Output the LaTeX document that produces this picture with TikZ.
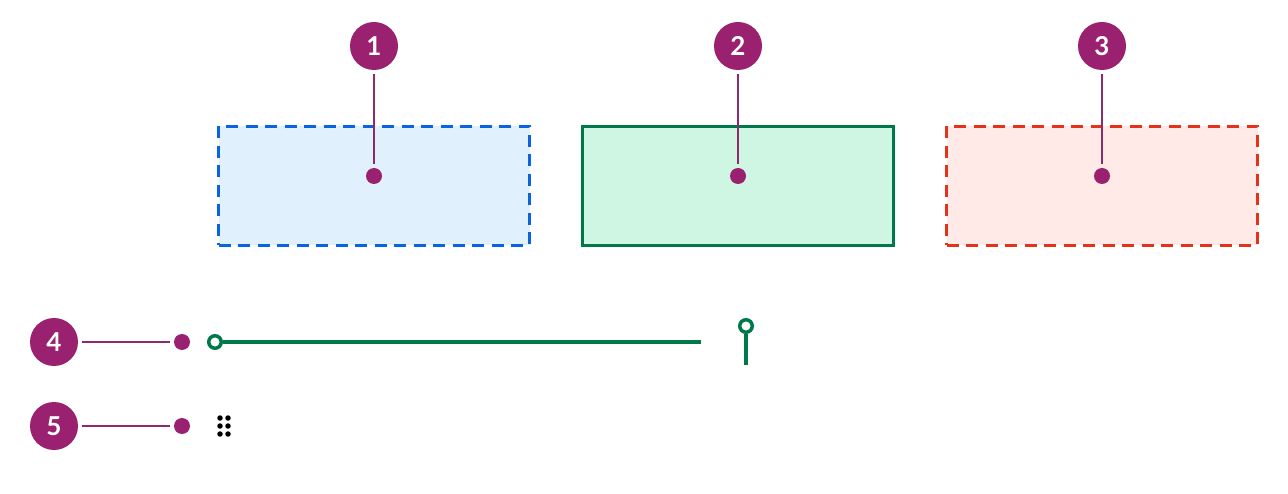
\documentclass[tikz,border=0pt]{standalone}
\usepackage{fontspec}
\setmainfont{Lato}
\definecolor{badge}{HTML}{9A2070}
\definecolor{lead}{HTML}{8E2A6C}
\definecolor{bluestroke}{HTML}{0A64E0}
\definecolor{bluefill}{HTML}{E0F1FD}
\definecolor{greenstroke}{HTML}{00794A}
\definecolor{greenfill}{HTML}{CFF6E2}
\definecolor{redstroke}{HTML}{E5321A}
\definecolor{redfill}{HTML}{FFEAE8}
\tikzset{
  badgenode/.style={circle,fill=badge,minimum size=48pt,inner sep=0pt,text=white,font=\fontsize{26}{26}\selectfont\bfseries},
  leadline/.style={draw=lead,line width=1.8pt},
  anchordot/.style={circle,fill=badge,minimum size=16pt,inner sep=0pt},
  zone/.style={minimum width=311pt,minimum height=119pt,inner sep=0pt,line width=3.8pt},
  dashzone/.style={zone,dash pattern=on 12pt off 7.5pt},
  handledot/.style={circle,fill=black,minimum size=5.5pt,inner sep=0pt},
  ring/.style={circle,draw=greenstroke,line width=3.5pt,fill=white,minimum size=12.5pt,inner sep=0pt},
}
\begin{document}
\begin{tikzpicture}[x=1pt,y=-1pt]
\useasboundingbox (0,0) rectangle (1288,494);
% zones
\node[dashzone,draw=bluestroke,fill=bluefill] (z1) at (374,186) {};
\node[zone,draw=greenstroke,fill=greenfill] (z2) at (738,186) {};
\node[dashzone,draw=redstroke,fill=redfill] (z3) at (1102,186) {};
% badges
\node[badgenode] (b1) at (374,46) {1};
\node[badgenode] (b2) at (738,46) {2};
\node[badgenode] (b3) at (1102,46) {3};
\node[badgenode] (b4) at (54,342) {4};
\node[badgenode] (b5) at (54,426) {5};
% dots
\node[anchordot] (d1) at (374,176) {};
\node[anchordot] (d2) at (738,176) {};
\node[anchordot] (d3) at (1102,176) {};
\node[anchordot] (d4) at (182,342) {};
\node[anchordot] (d5) at (182,426) {};
% leader lines
\coordinate (e1) at (374,164);
\coordinate (e2) at (738,164);
\coordinate (e3) at (1102,164);
\coordinate (s1) at (374,74);
\coordinate (s2) at (738,74);
\coordinate (s3) at (1102,74);
\draw[leadline] (s1) -- (e1);
\draw[leadline] (s2) -- (e2);
\draw[leadline] (s3) -- (e3);
\coordinate (s4) at (82,342);
\coordinate (e4) at (170,342);
\coordinate (s5) at (82,426);
\coordinate (e5) at (170,426);
\draw[leadline] (s4) -- (e4);
\draw[leadline] (s5) -- (e5);
% green track
\node[ring] (t1) at (215,342) {};
\coordinate (t2) at (701,342);
\draw[greenstroke,line width=4pt] (t1) -- (t2);
% pin
\node[ring] (p1) at (746,326) {};
\coordinate (p2) at (746,365);
\draw[greenstroke,line width=4pt] (p1) -- (p2);
% handle
\foreach \i/\xx in {a/220,b/228}{
  \foreach \j/\yy in {1/418,2/426,3/434}{
    \node[handledot] (h\i\j) at (\xx,\yy) {};
  }
}
\end{tikzpicture}
\end{document}
